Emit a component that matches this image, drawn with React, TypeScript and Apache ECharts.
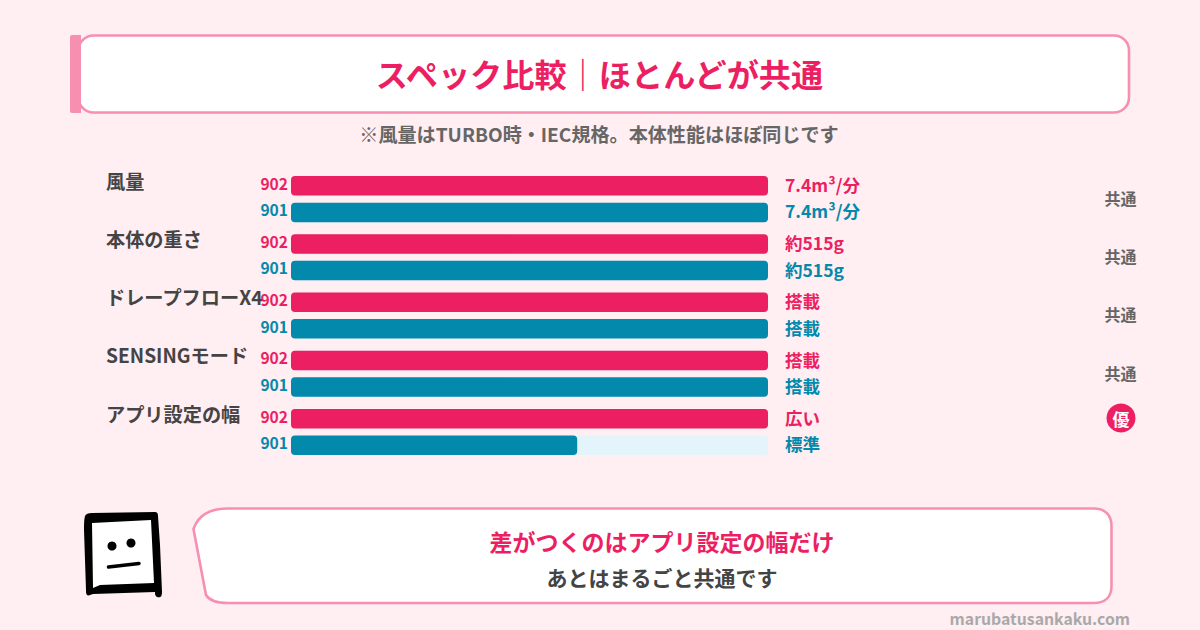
import React, { useEffect, useRef } from "react";
import * as echarts from "echarts";

const categories = ["風量", "本体の重さ", "ドレープフローX4", "SENSINGモード", "アプリ設定の幅"];
const score902 = [100, 100, 100, 100, 100];
const score901 = [100, 100, 100, 100, 60];
const trackMax = [100, 100, 100, 100, 100];
const spec902 = ["7.4m³/分", "約515g", "搭載", "搭載", "広い"];
const spec901 = ["7.4m³/分", "約515g", "搭載", "搭載", "標準"];
const verdicts = ["共通", "共通", "共通", "共通", "優"];
const modelA = "902";
const modelB = "901";

const PINK = "#ec1f63";
const TEAL = "#0389ab";
const TRACK = "#e3f4fa";
const LINE = "#f78fb3";
const BG = "#ffeef2";
const FONT = '"Noto Sans CJK JP", "Noto Sans", sans-serif';

const bubble =
  "M193.5 529 C198 516 209 508.5 228 508.5 L1094 508.5 C1105 508.5 1111.5 515 1111.5 526 L1111.5 586 C1111.5 597 1105 603 1094 603 L228 603 C217 603 209 600 206 595 Z";
const faceOuter =
  "M85 516 C86 514 88 513 92 513 L155 512 C157 512 158 513 158 516 L160 545 L162 592 C162 597 160 598 157 597 C155 596 155 594 155 592 L93 594 C90 595 88 596 87 595 C86 594 86 592 86 590 L84 530 C84 524 84 520 85 516 Z";
const faceInner = "M92 523 L151 520 L154 583 L100 585 L93 588 Z";

echarts.graphic.registerShape("bubble", echarts.graphic.extendPath(bubble, {}));
echarts.graphic.registerShape("faceOuter", echarts.graphic.extendPath(faceOuter, {}));
echarts.graphic.registerShape("faceInner", echarts.graphic.extendPath(faceInner, {}));

const text = (x: number, y: number, t: string, size: number, fill: string, align = "center", weight: any = 700) => ({
  type: "text",
  x,
  y,
  style: { text: t, font: `${weight} ${size}px ${FONT}`, fill, align, verticalAlign: "middle" },
});

export default function App() {
  const ref = useRef<HTMLDivElement>(null);
  useEffect(() => {
    document.body.style.margin = "0";
    const chart = echarts.init(ref.current!, null, { renderer: "svg" });
    const verdictY = [198, 256, 314, 373, 418];
    const verdictGraphics = verdicts.flatMap((v, i) =>
      v === "優"
        ? [
            { type: "circle", shape: { cx: 1121, cy: verdictY[i], r: 14.5 }, style: { fill: PINK } },
            text(1121, verdictY[i], v, 17, "#ffffff"),
          ]
        : [text(1120.5, verdictY[i], v, 16, "#666666")]
    );
    const barBase = { type: "bar", barWidth: 19.5, barGap: "36%", silent: true };
    const specLabel = { show: true, position: "right", distance: 17, offset: [0, -1.5], fontSize: 17.5, fontWeight: 700, fontFamily: FONT };
    const nameLabel = { show: true, position: "left", distance: 3, offset: [0, -3.2], fontSize: 15.6, fontWeight: 700, fontFamily: FONT };
    chart.setOption({
      animation: false,
      backgroundColor: BG,
      textStyle: { fontFamily: FONT },
      graphic: [
        { type: "rect", shape: { x: 78.5, y: 35.5, width: 1050.5, height: 77, r: 15 }, style: { fill: "#fff", stroke: LINE, lineWidth: 2.6 } },
        { type: "rect", shape: { x: 70, y: 35, width: 11, height: 78, r: [2, 0, 0, 2] }, style: { fill: LINE } },
        text(599.5, 72.5, "スペック比較｜ほとんどが共通", 32.2, PINK),
        text(599, 133.5, "※風量はTURBO時・IEC規格。本体性能はほぼ同じです", 19.1, "#666666"),
        ...verdictGraphics,
        { type: "bubble", style: { fill: "#fff", stroke: LINE, lineWidth: 2.6 } },
        { type: "faceOuter", style: { fill: "#000" } },
        { type: "faceInner", style: { fill: "#fff" } },
        { type: "circle", shape: { cx: 112, cy: 546, r: 4.5 }, style: { fill: "#000" } },
        { type: "circle", shape: { cx: 131, cy: 543, r: 4.5 }, style: { fill: "#000" } },
        { type: "line", shape: { x1: 108.5, y1: 567, x2: 139, y2: 563.5 }, style: { stroke: "#000", lineWidth: 3.5, lineCap: "round" } },
        text(662, 540.5, "差がつくのはアプリ設定の幅だけ", 23, PINK),
        text(662, 577, "あとはまるごと共通です", 21, "#444444"),
        text(1130, 618.5, "marubatusankaku.com", 15.8, "#a9a9a9", "right"),
      ],
      grid: [
        { left: 291, top: 170, width: 477, height: 291.2 },
        { left: 291, top: 170, width: 477, height: 291.2 },
      ],
      xAxis: [
        { type: "value", gridIndex: 0, min: 0, max: 100, show: false },
        { type: "value", gridIndex: 1, min: 0, max: 100, show: false },
      ],
      yAxis: [
        {
          type: "category",
          gridIndex: 0,
          inverse: true,
          data: categories,
          axisLine: { show: false },
          axisTick: { show: false },
          axisLabel: {
            margin: 185,
            align: "left",
            verticalAlign: "bottom",
            lineHeight: 37,
            fontSize: 19.2,
            fontWeight: 700,
            fontFamily: FONT,
            color: "#444444",
          },
        },
        { type: "category", gridIndex: 1, inverse: true, data: categories, show: false },
      ],
      series: [
        {
          ...barBase,
          name: "spec902",
          xAxisIndex: 0,
          yAxisIndex: 0,
          data: trackMax,
          itemStyle: { color: TRACK, borderRadius: 4 },
          label: { ...specLabel, color: PINK, formatter: (p: any) => spec902[p.dataIndex] },
        },
        {
          ...barBase,
          name: "spec901",
          xAxisIndex: 0,
          yAxisIndex: 0,
          data: trackMax,
          itemStyle: { color: TRACK, borderRadius: 4 },
          label: { ...specLabel, color: TEAL, formatter: (p: any) => spec901[p.dataIndex] },
        },
        {
          ...barBase,
          name: modelA,
          xAxisIndex: 1,
          yAxisIndex: 1,
          data: score902,
          itemStyle: { color: PINK, borderRadius: 4 },
          label: { ...nameLabel, color: PINK, formatter: modelA },
        },
        {
          ...barBase,
          name: modelB,
          xAxisIndex: 1,
          yAxisIndex: 1,
          data: score901,
          itemStyle: { color: TEAL, borderRadius: 4 },
          label: { ...nameLabel, color: TEAL, formatter: modelB },
        },
      ],
    });
    return () => chart.dispose();
  }, []);
  return <div ref={ref} style={{ width: 1200, height: 630 }} />;
}
